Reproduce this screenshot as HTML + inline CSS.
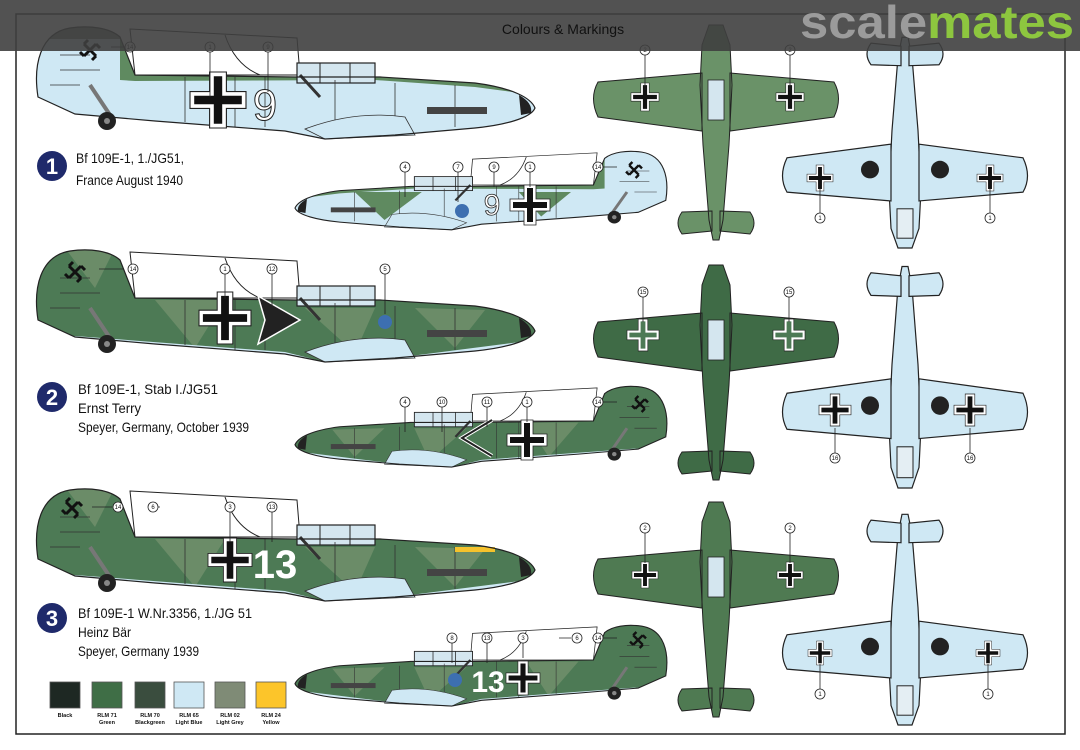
<!DOCTYPE html>
<html><head><meta charset="utf-8"><style>
html,body{margin:0;padding:0;background:#fff;}
svg{display:block;}
text{font-family:"Liberation Sans",Arial,sans-serif;}
</style></head><body>
<svg width="1080" height="750" viewBox="0 0 1080 750" xmlns="http://www.w3.org/2000/svg">
<defs>
  <path id="sb" d="M3,72 C-2,40 5,8 35,3 C55,0 75,3 85,12 L100,50 L260,52 L345,52 L440,58 C478,63 496,73 500,83 C496,93 470,100 440,103 L360,110 L290,114 L250,106 L120,96 L40,89 Z"/>
  <clipPath id="cs"><use href="#sb"/></clipPath>
  <g id="tv">
    <path d="M-7,0 L7,0 L14,20 L16,60 L13,120 L7,195 L3,215 L-3,215 L-7,195 L-13,120 L-16,60 L-14,20 Z"/>
    <path d="M-14,48 L-118,57 Q-127,73 -118,92 L-14,106 Z M14,48 L118,57 Q127,73 118,92 L14,106 Z"/>
    <path d="M-4,186 L-34,187 Q-42,198 -34,209 L-4,206 Z M4,186 L34,187 Q42,198 34,209 L4,206 Z"/>
  </g>
  <clipPath id="ct"><use href="#tv"/></clipPath>
  <g id="bk"><path d="M-6,-20h12v14h14v12h-14v14h-12v-14h-14v-12h14z" fill="#fff" stroke="#222" stroke-width="0.8"/><path d="M-3,-17h6v14h14v6h-14v14h-6v-14h-14v-6h14z" fill="#111"/></g>
  <g id="bw"><path d="M-6,-20h12v14h14v12h-14v14h-12v-14h-14v-12h14z" fill="#fff" stroke="#222" stroke-width="0.8"/><path d="M-3,-17h6v14h14v6h-14v14h-6v-14h-14v-6h14z" fill="#4d7a55"/></g>
  <g id="sw"><path d="M-6,-6 L6,6 M6,-6 L-6,6 M-6,-6 L-2,-10 M6,-6 L10,-2 M6,6 L2,10 M-6,6 L-10,2" stroke="#111" stroke-width="3" fill="none"/></g>
  <g id="bodyDetail">
    <path d="M95,4 L262,13 L265,50 L100,50 Z" fill="#fff" stroke="#222" stroke-width="1"/>
    <path d="M190,10 Q200,40 225,50" fill="none" stroke="#222"/>
    <rect x="262" y="38" width="78" height="20" fill="#d4e6ef" stroke="#222" stroke-width="1.2"/>
    <path d="M285,38v20M315,38v20" stroke="#222"/>
    <path d="M265,50 L285,72" stroke="#333" stroke-width="3"/>
    <path d="M150,52v45M200,52v50M230,52v50M300,55v55M360,58v50M420,60v42" stroke="#333" stroke-width="0.8"/>
    <path d="M270,104 Q320,85 370,92 L380,110 L290,114 Z" fill="#cfe8f4" stroke="#333" stroke-width="0.8"/>
    <rect x="392" y="82" width="60" height="7" fill="#444"/>
    <path d="M25,45h40M25,30h30M15,60h30" stroke="#333" stroke-width="0.8"/>
    <path d="M55,60 L75,90" stroke="#777" stroke-width="4"/>
    <circle cx="72" cy="96" r="9" fill="#222"/><circle cx="72" cy="96" r="3" fill="#888"/>
    <path d="M484,70 Q498,78 496,88 L486,90 Z" fill="#222"/>
  </g>
</defs>

<rect x="16" y="14" width="1049" height="720" fill="#fff" stroke="#222" stroke-width="1.5"/>

<!-- ROW 1 big side -->
<g transform="translate(35,25)">
  <use href="#sb" fill="#cfe8f4"/>
  <g clip-path="url(#cs)">
    <path d="M85,0 L500,0 L500,70 L440,62 L340,55 L100,56 L85,55Z" fill="#5f8a60"/>
    <path d="M0,0 L90,0 L90,14 L0,14Z" fill="#6f7f70"/>
  </g>
  <use href="#bodyDetail"/>
  <use href="#sb" fill="none" stroke="#222" stroke-width="1.2"/>
</g>
<g transform="translate(668,150) scale(-0.746,0.7)">
  <use href="#sb" fill="#cfe8f4"/>
  <g clip-path="url(#cs)"><path d="M85,0 L500,0 L500,70 L440,62 L340,55 L100,56 L85,55Z" fill="#5f8a60"/><path d="M130,60 L200,60 L170,95Z M330,60 L420,60 L380,100Z" fill="#5f8a60"/></g>
  <use href="#bodyDetail"/>
  <use href="#sb" fill="none" stroke="#222" stroke-width="1.5"/>
</g>

<!-- ROW 2 -->
<g transform="translate(35,248)">
  <use href="#sb" fill="#4d7a55"/>
  <g clip-path="url(#cs)">
    <path d="M120,52 L190,52 L160,100Z M270,60 L340,60 L320,105Z M380,60 L450,62 L420,100Z M30,0 L80,0 L60,40Z" fill="#6b8c68"/>
    <path d="M40,88 L250,104 L290,114 L360,110 L500,92 L500,120 L0,120Z" fill="#cfe8f4"/>
  </g>
  <use href="#bodyDetail"/>
  <use href="#sb" fill="none" stroke="#222" stroke-width="1.2"/>
</g>
<g transform="translate(668,385) scale(-0.746,0.72)">
  <use href="#sb" fill="#4d7a55"/>
  <g clip-path="url(#cs)">
    <path d="M120,52 L190,52 L160,100Z M270,60 L340,60 L320,105Z M380,60 L450,62 L420,100Z" fill="#6b8c68"/>
    <path d="M40,88 L250,104 L290,114 L360,110 L500,92 L500,120 L0,120Z" fill="#cfe8f4"/>
  </g>
  <use href="#bodyDetail"/>
  <use href="#sb" fill="none" stroke="#222" stroke-width="1.5"/>
</g>

<!-- ROW 3 -->
<g transform="translate(35,487)">
  <use href="#sb" fill="#4d7a55"/>
  <g clip-path="url(#cs)">
    <path d="M120,52 L190,52 L160,100Z M270,60 L340,60 L320,105Z M380,60 L450,62 L420,100Z M30,0 L80,0 L60,40Z" fill="#6b8c68"/>
    <path d="M40,88 L250,104 L290,114 L360,110 L500,92 L500,120 L0,120Z" fill="#cfe8f4"/>
  </g>
  <use href="#bodyDetail"/>
  <rect x="420" y="60" width="40" height="5" fill="#f5c22c"/>
  <use href="#sb" fill="none" stroke="#222" stroke-width="1.2"/>
</g>
<g transform="translate(668,624) scale(-0.746,0.72)">
  <use href="#sb" fill="#4d7a55"/>
  <g clip-path="url(#cs)">
    <path d="M120,52 L190,52 L160,100Z M270,60 L340,60 L320,105Z M380,60 L450,62 L420,100Z" fill="#6b8c68"/>
    <path d="M40,88 L250,104 L290,114 L360,110 L500,92 L500,120 L0,120Z" fill="#cfe8f4"/>
  </g>
  <use href="#bodyDetail"/>
  <use href="#sb" fill="none" stroke="#222" stroke-width="1.5"/>
</g>

<!-- side markings -->
<use href="#sw" transform="translate(90,50)"/>
<use href="#sw" transform="translate(75,272)"/>
<use href="#sw" transform="translate(72,508)"/>
<use href="#sw" transform="translate(634,170) scale(0.8)"/>
<use href="#sw" transform="translate(640,404) scale(0.8)"/>
<use href="#sw" transform="translate(638,640) scale(0.8)"/>
<use href="#bk" transform="translate(218,100) scale(1.4)"/>
<use href="#bk" transform="translate(530,205)"/>
<use href="#bk" transform="translate(225,318) scale(1.3)"/>
<use href="#bk" transform="translate(527,440)"/>
<use href="#bk" transform="translate(230,560) scale(1.1)"/>
<use href="#bk" transform="translate(523,678) scale(0.85)"/>
<text x="265" y="120" font-size="44" fill="#fff" stroke="#222" stroke-width="1" text-anchor="middle">9</text>
<text x="492" y="215" font-size="30" fill="#fff" stroke="#222" stroke-width="0.8" text-anchor="middle">9</text>
<path d="M258,296 L300,320 L258,344 L265,320 Z" fill="#222" stroke="#fff" stroke-width="1.5"/>
<path d="M492,420 L462,438 L492,456" fill="none" stroke="#fff" stroke-width="4"/>
<path d="M492,420 L462,438 L492,456" fill="none" stroke="#222" stroke-width="2"/>
<text x="275" y="578" font-size="40" font-weight="bold" fill="#fff" text-anchor="middle">13</text>
<text x="488" y="692" font-size="30" font-weight="bold" fill="#fff" text-anchor="middle">13</text>
<circle cx="462" cy="211" r="7" fill="#3d6fb0"/>
<circle cx="385" cy="322" r="7" fill="#3d6fb0"/>
<circle cx="455" cy="680" r="7" fill="#3d6fb0"/>

<!-- TOP VIEWS -->
<g transform="translate(716,25)">
  <use href="#tv" fill="#6a9268"/>
  <g clip-path="url(#ct)"><path d="M-130,50 L-90,50 L-60,110 L-100,110Z M-40,50 L-14,50 L-14,90Z M30,50 L70,50 L100,110 L60,110Z M-20,130 L20,150 L20,180 L-20,160Z M-40,190 L-10,190 L-20,210Z" fill="#8c9a84"/></g>
  <rect x="-8" y="55" width="16" height="40" fill="#d4e6ef" stroke="#222" stroke-width="0.8"/>
  <use href="#tv" fill="none" stroke="#222" stroke-width="1"/>
</g>
<g transform="translate(716,265)">
  <use href="#tv" fill="#3f6b46"/>
  <g clip-path="url(#ct)"><path d="M-130,50 L-90,50 L-60,110 L-100,110Z M30,50 L70,50 L100,110 L60,110Z M-20,130 L20,150 L20,180 L-20,160Z" fill="#5a7d58"/></g>
  <rect x="-8" y="55" width="16" height="40" fill="#d4e6ef" stroke="#222" stroke-width="0.8"/>
  <use href="#tv" fill="none" stroke="#222" stroke-width="1"/>
</g>
<g transform="translate(716,502)">
  <use href="#tv" fill="#4f7a52"/>
  <g clip-path="url(#ct)"><path d="M-130,50 L-90,50 L-60,110 L-100,110Z M30,50 L70,50 L100,110 L60,110Z M-20,130 L20,150 L20,180 L-20,160Z" fill="#6e8a68"/></g>
  <rect x="-8" y="55" width="16" height="40" fill="#d4e6ef" stroke="#222" stroke-width="0.8"/>
  <use href="#tv" fill="none" stroke="#222" stroke-width="1"/>
</g>
<use href="#bk" transform="translate(645,97) scale(0.7)"/>
<use href="#bk" transform="translate(790,97) scale(0.7)"/>
<use href="#bw" transform="translate(643,335) scale(0.8)"/>
<use href="#bw" transform="translate(789,335) scale(0.8)"/>
<use href="#bk" transform="translate(645,575) scale(0.65)"/>
<use href="#bk" transform="translate(790,575) scale(0.65)"/>

<!-- BOTTOM VIEWS -->
<g transform="translate(905,248) scale(1,-0.98)">
  <use href="#tv" fill="#cfe8f4" stroke="#222" stroke-width="1.2"/>
  <circle cx="-35" cy="80" r="9" fill="#222"/><circle cx="35" cy="80" r="9" fill="#222"/>
  <rect x="-8" y="10" width="16" height="30" fill="#e4eef3" stroke="#222"/>
</g>
<g transform="translate(905,488) scale(1,-1.03)">
  <use href="#tv" fill="#cfe8f4" stroke="#222" stroke-width="1.2"/>
  <circle cx="-35" cy="80" r="9" fill="#222"/><circle cx="35" cy="80" r="9" fill="#222"/>
  <rect x="-8" y="10" width="16" height="30" fill="#e4eef3" stroke="#222"/>
</g>
<g transform="translate(905,725) scale(1,-0.98)">
  <use href="#tv" fill="#cfe8f4" stroke="#222" stroke-width="1.2"/>
  <circle cx="-35" cy="80" r="9" fill="#222"/><circle cx="35" cy="80" r="9" fill="#222"/>
  <rect x="-8" y="10" width="16" height="30" fill="#e4eef3" stroke="#222"/>
</g>
<use href="#bk" transform="translate(820,178) scale(0.65)"/>
<use href="#bk" transform="translate(990,178) scale(0.65)"/>
<use href="#bk" transform="translate(835,410) scale(0.8)"/>
<use href="#bk" transform="translate(970,410) scale(0.8)"/>
<use href="#bk" transform="translate(820,653) scale(0.6)"/>
<use href="#bk" transform="translate(988,653) scale(0.6)"/>

<!-- callouts -->
<g font-size="6" text-anchor="middle" fill="#111" stroke-width="0.8">
<g stroke="#222">
<path d="M210,52v45M268,52v40M405,172v25M458,172v30M494,172v15M530,172v15M645,55v35M790,55v35M820,213v-25M990,213v-25
M225,274v25M272,274v40M385,274v40M405,407v25M442,407v25M487,407v20M527,407v15M643,297v25M789,297v25M835,453v-25M970,453v-25
M230,512v30M272,512v30M452,643v20M487,643v20M523,643v15M645,533v30M790,533v30M820,689v-25M988,689v-25"/>
<path d="M136,47h-25M124,269h-25M112,507h-20M592,167h25M592,402h25M592,638h25M160,507h-10M571,638h-12"/>
</g>
<g fill="#fff" stroke="#222">
<circle cx="130" cy="47" r="5"/><circle cx="210" cy="47" r="5"/><circle cx="268" cy="47" r="5"/><circle cx="405" cy="167" r="5"/><circle cx="458" cy="167" r="5"/><circle cx="494" cy="167" r="5"/><circle cx="530" cy="167" r="5"/><circle cx="598" cy="167" r="5"/><circle cx="645" cy="50" r="5"/><circle cx="790" cy="50" r="5"/><circle cx="820" cy="218" r="5"/><circle cx="990" cy="218" r="5"/>
<circle cx="133" cy="269" r="5"/><circle cx="225" cy="269" r="5"/><circle cx="272" cy="269" r="5"/><circle cx="385" cy="269" r="5"/><circle cx="405" cy="402" r="5"/><circle cx="442" cy="402" r="5"/><circle cx="487" cy="402" r="5"/><circle cx="527" cy="402" r="5"/><circle cx="598" cy="402" r="5"/><circle cx="643" cy="292" r="5"/><circle cx="789" cy="292" r="5"/><circle cx="835" cy="458" r="5"/><circle cx="970" cy="458" r="5"/>
<circle cx="118" cy="507" r="5"/><circle cx="153" cy="507" r="5"/><circle cx="230" cy="507" r="5"/><circle cx="272" cy="507" r="5"/><circle cx="452" cy="638" r="5"/><circle cx="487" cy="638" r="5"/><circle cx="523" cy="638" r="5"/><circle cx="577" cy="638" r="5"/><circle cx="598" cy="638" r="5"/><circle cx="645" cy="528" r="5"/><circle cx="790" cy="528" r="5"/><circle cx="820" cy="694" r="5"/><circle cx="988" cy="694" r="5"/>
</g>
<text x="130" y="49">14</text><text x="210" y="49">1</text><text x="268" y="49">9</text><text x="405" y="169">4</text><text x="458" y="169">7</text><text x="494" y="169">9</text><text x="530" y="169">1</text><text x="598" y="169">14</text><text x="645" y="52">2</text><text x="790" y="52">2</text><text x="820" y="220">1</text><text x="990" y="220">1</text>
<text x="133" y="271">14</text><text x="225" y="271">1</text><text x="272" y="271">12</text><text x="385" y="271">5</text><text x="405" y="404">4</text><text x="442" y="404">10</text><text x="487" y="404">11</text><text x="527" y="404">1</text><text x="598" y="404">14</text><text x="643" y="294">15</text><text x="789" y="294">15</text><text x="835" y="460">16</text><text x="970" y="460">16</text>
<text x="118" y="509">14</text><text x="153" y="509">6</text><text x="230" y="509">3</text><text x="272" y="509">13</text><text x="452" y="640">8</text><text x="487" y="640">13</text><text x="523" y="640">3</text><text x="577" y="640">6</text><text x="598" y="640">14</text><text x="645" y="530">2</text><text x="790" y="530">2</text><text x="820" y="696">1</text><text x="988" y="696">1</text>
</g>

<!-- Titles -->
<g font-size="14" fill="#111">
<circle cx="52" cy="166" r="15" fill="#1f2a6b"/><text x="52" y="174" font-size="22" font-weight="bold" fill="#fff" text-anchor="middle">1</text>
<text x="76" y="163" textLength="108" lengthAdjust="spacingAndGlyphs">Bf 109E-1, 1./JG51,</text>
<text x="76" y="185" textLength="107" lengthAdjust="spacingAndGlyphs">France August 1940</text>
<circle cx="52" cy="397" r="15" fill="#1f2a6b"/><text x="52" y="405" font-size="22" font-weight="bold" fill="#fff" text-anchor="middle">2</text>
<text x="78" y="394" textLength="140" lengthAdjust="spacingAndGlyphs">Bf 109E-1, Stab I./JG51</text>
<text x="78" y="413" textLength="63" lengthAdjust="spacingAndGlyphs">Ernst Terry</text>
<text x="78" y="432" textLength="171" lengthAdjust="spacingAndGlyphs">Speyer, Germany, October 1939</text>
<circle cx="52" cy="618" r="15" fill="#1f2a6b"/><text x="52" y="626" font-size="22" font-weight="bold" fill="#fff" text-anchor="middle">3</text>
<text x="78" y="618" textLength="174" lengthAdjust="spacingAndGlyphs">Bf 109E-1 W.Nr.3356, 1./JG 51</text>
<text x="78" y="637" textLength="53" lengthAdjust="spacingAndGlyphs">Heinz Bär</text>
<text x="78" y="656" textLength="121" lengthAdjust="spacingAndGlyphs">Speyer, Germany 1939</text>
</g>

<!-- Colour chips -->
<g stroke="#555" stroke-width="0.8">
<rect x="50" y="682" width="30" height="26" fill="#1e2823"/>
<rect x="92" y="682" width="30" height="26" fill="#3f6e46"/>
<rect x="135" y="682" width="30" height="26" fill="#3a4d3e"/>
<rect x="174" y="682" width="30" height="26" fill="#cfe8f4"/>
<rect x="215" y="682" width="30" height="26" fill="#7f8b76"/>
<rect x="256" y="682" width="30" height="26" fill="#fcc52a"/>
</g>
<g font-size="5.5" font-weight="bold" fill="#111" text-anchor="middle">
<text x="65" y="717">Black</text>
<text x="107" y="717">RLM 71</text><text x="107" y="724">Green</text>
<text x="150" y="717">RLM 70</text><text x="150" y="724">Blackgreen</text>
<text x="189" y="717">RLM 65</text><text x="189" y="724">Light Blue</text>
<text x="230" y="717">RLM 02</text><text x="230" y="724">Light Grey</text>
<text x="271" y="717">RLM 24</text><text x="271" y="724">Yellow</text>
</g>

<!-- header band -->
<rect x="0" y="0" width="1080" height="51" fill="#3f3f3f" opacity="0.9"/>
<text x="563" y="34" font-size="14" fill="#111" text-anchor="middle">Colours &amp; Markings</text>
<text x="800" y="38" font-size="46" font-weight="bold" fill="#9b9b9b" textLength="274" lengthAdjust="spacingAndGlyphs">scale<tspan fill="#8dc63f">mates</tspan></text>
</svg>
</body></html>
